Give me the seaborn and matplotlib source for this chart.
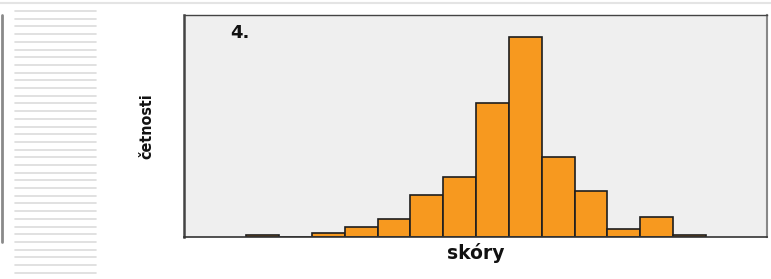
import matplotlib
matplotlib.use("Agg")
import matplotlib.pyplot as plt
import seaborn as sns
import pandas as pd
from matplotlib.lines import Line2D

# data
skore = [0, 1, 2, 3, 4, 5, 6, 7, 8, 9, 10, 11, 12, 13]
cetnosti = [1, 0, 2, 5, 9, 21, 30, 67, 100, 40, 23, 4, 10, 1]
panel_label = "4."
x_label = "skóry"
y_label = "četnosti"

sns.set_theme(style="white")
plt.rcParams['font.family'] = ['DejaVu Sans']

df = pd.DataFrame({"skore": skore, "cetnosti": cetnosti})

W, H = 771, 279
fig = plt.figure(figsize=(W / 100, H / 100), dpi=100)
ax = fig.add_axes([184 / W, (H - 237) / H, (766.5 - 184) / W, (237 - 15) / H])
ax.set_facecolor("#efefef")

sns.histplot(data=df, x="skore", weights="cetnosti", discrete=True, ax=ax,
             color="#f7991f", alpha=1.0, edgecolor="#1e1e1e", linewidth=1.2,
             shrink=1.0)

ax.set_xlim(-2.39, 15.34)
ax.set_ylim(0, 111)
ax.set_xticks([])
ax.set_yticks([])
ax.set_xlabel(x_label, fontsize=13.5, fontweight="heavy", labelpad=4, color="#111111")
ax.set_ylabel(y_label, fontsize=11.5, fontweight="bold", color="#111111",
              family=["DejaVu Sans"], fontstretch="condensed")
ax.yaxis.set_label_coords(-0.05, 0.5)
ax.text(0.096, 0.919, panel_label, transform=ax.transAxes, fontsize=13,
        fontweight="heavy", ha="center", va="center", color="#111111")

for side, col, lw in [("left", "#444444", 1.8), ("top", "#444444", 1.0),
                      ("right", "#888888", 1.5), ("bottom", "#333333", 1.2)]:
    ax.spines[side].set_visible(True)
    ax.spines[side].set_color(col)
    ax.spines[side].set_linewidth(lw)

# page decorations
fig.add_artist(Line2D([0, 1], [1 - 3 / H, 1 - 3 / H], transform=fig.transFigure,
                      color="#e4e4e4", lw=1.5))
fig.add_artist(Line2D([2 / W, 2 / W], [1 - 15 / H, 1 - 242 / H], transform=fig.transFigure,
                      color="#8a8a8a", lw=2.0))
y = 11.0
while y <= 274:
    fig.add_artist(Line2D([15 / W, 96 / W], [1 - y / H, 1 - y / H], transform=fig.transFigure,
                          color="#dcdcdc", lw=1.2))
    y += 7.7

fig.savefig("out.png", dpi=100, facecolor="white")
